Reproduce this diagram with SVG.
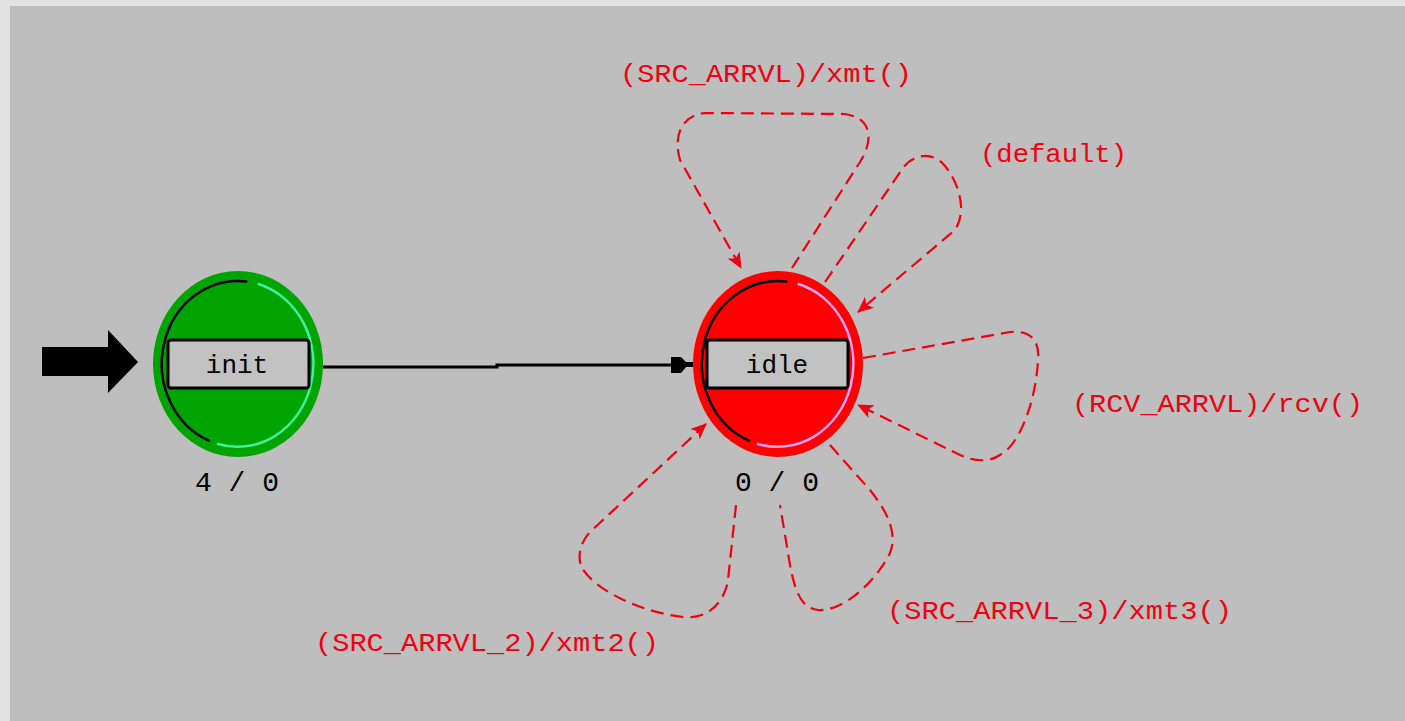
<svg xmlns="http://www.w3.org/2000/svg" width="1405" height="721" viewBox="0 0 1405 721">
  <style>
    .red { fill: none; stroke: #f00010; stroke-width: 2.2; stroke-dasharray: 13 7; }
    .lbl { font-family: "Liberation Mono", "DejaVu Sans Mono", monospace; font-size: 26px; fill: #f00010; }
    .st { font-family: "Liberation Mono", "DejaVu Sans Mono", monospace; font-size: 26px; fill: #000; text-anchor: middle; }
    .num { font-family: "Liberation Mono", "DejaVu Sans Mono", monospace; font-size: 28px; fill: #000; text-anchor: middle; }
    .box { fill: #c2c2c2; stroke: #000; stroke-width: 3; }
    .dark { fill: none; stroke: #000; stroke-width: 2.5; }
  </style>
  <defs>
    <marker id="rarrow" markerUnits="userSpaceOnUse" markerWidth="16" markerHeight="14" viewBox="0 0 16 14" refX="15" refY="7" orient="auto">
      <path d="M0,0 L16,7 L0,14 L4,7 Z" fill="#f00010"/>
    </marker>
  </defs>
  <rect x="0" y="0" width="1405" height="721" fill="#e2e2e2"/>
  <rect x="10" y="6" width="1395" height="715" fill="#bebebe"/>

  <g id="connectors">
    <path id="start-arrow" d="M42,347 L108,347 L108,330 L138,362 L108,393 L108,376 L42,376 Z" fill="#000"/>
    <g id="init-to-idle">
      <polyline points="323,367 497,367 497,365 675,365" fill="none" stroke="#000" stroke-width="3"/>
      <path d="M671,357 L681,357 L686,362 L693,362 L693,367 L686,367 L681,373 L671,373 Z" fill="#000"/>
    </g>
    <path id="loop-src" class="red" marker-end="url(#rarrow)" d="M792,268 L860,162 C874,140 872,118 845,114 L705,113 C682,115 673,135 680,160 L741,268"/>
    <path id="loop-default" class="red" marker-end="url(#rarrow)" d="M825,282 L903,168 C912,155 932,150 945,166 C958,182 968,210 955,230 L858,312"/>
    <path id="loop-rcv" class="red" marker-end="url(#rarrow)" d="M863,358 L1010,332 C1030,330 1040,340 1038,360 C1036,400 1020,445 1000,455 C990,462 975,462 960,455 L858,405"/>
    <path id="loop-src3" class="red" d="M830,445 L870,490 C890,515 897,535 890,553 C878,578 845,612 818,610 C800,608 795,590 790,565 L780,505"/>
    <path id="loop-src2" class="red" marker-end="url(#rarrow)" d="M736,505 L728,580 C725,600 710,620 683,617 C640,612 595,590 582,568 C578,560 578,545 590,532 L706,424"/>
  </g>

  <g id="node-init">
    <ellipse cx="238" cy="364" rx="85" ry="93" fill="#00a400"/>
    <path class="dark" d="M247.3,281.6 A76,83 0 0 0 210,441.2"/>
    <path d="M257.7,283.8 A76,83 0 1 1 217,443.8" fill="none" stroke="#40f0a0" stroke-width="2.5"/>
    <rect class="box" x="168" y="340" width="141" height="48" rx="3"/>
    <text class="st" x="237" y="373">init</text>
    <text class="num" x="237" y="491">4 / 0</text>
  </g>

  <g id="node-idle">
    <ellipse cx="778" cy="364" rx="85" ry="93" fill="#ff0000"/>
    <path class="dark" d="M787.3,281.6 A76,83 0 0 0 750,441.2"/>
    <path d="M797.7,283.8 A76,83 0 1 1 757,443.8" fill="none" stroke="#ffa0ff" stroke-width="2.5"/>
    <rect class="box" x="707" y="340" width="141" height="48" rx="3"/>
    <text class="st" x="777" y="373">idle</text>
    <text class="num" x="777" y="491">0 / 0</text>
  </g>

  <g id="labels">
    <text class="lbl" x="620" y="82" textLength="292" lengthAdjust="spacingAndGlyphs">(SRC_ARRVL)/xmt()</text>
    <text class="lbl" x="980" y="162" textLength="147" lengthAdjust="spacingAndGlyphs">(default)</text>
    <text class="lbl" x="1072" y="412" textLength="291" lengthAdjust="spacingAndGlyphs">(RCV_ARRVL)/rcv()</text>
    <text class="lbl" x="887" y="619" textLength="345" lengthAdjust="spacingAndGlyphs">(SRC_ARRVL_3)/xmt3()</text>
    <text class="lbl" x="315" y="651" textLength="344" lengthAdjust="spacingAndGlyphs">(SRC_ARRVL_2)/xmt2()</text>
  </g>
</svg>
